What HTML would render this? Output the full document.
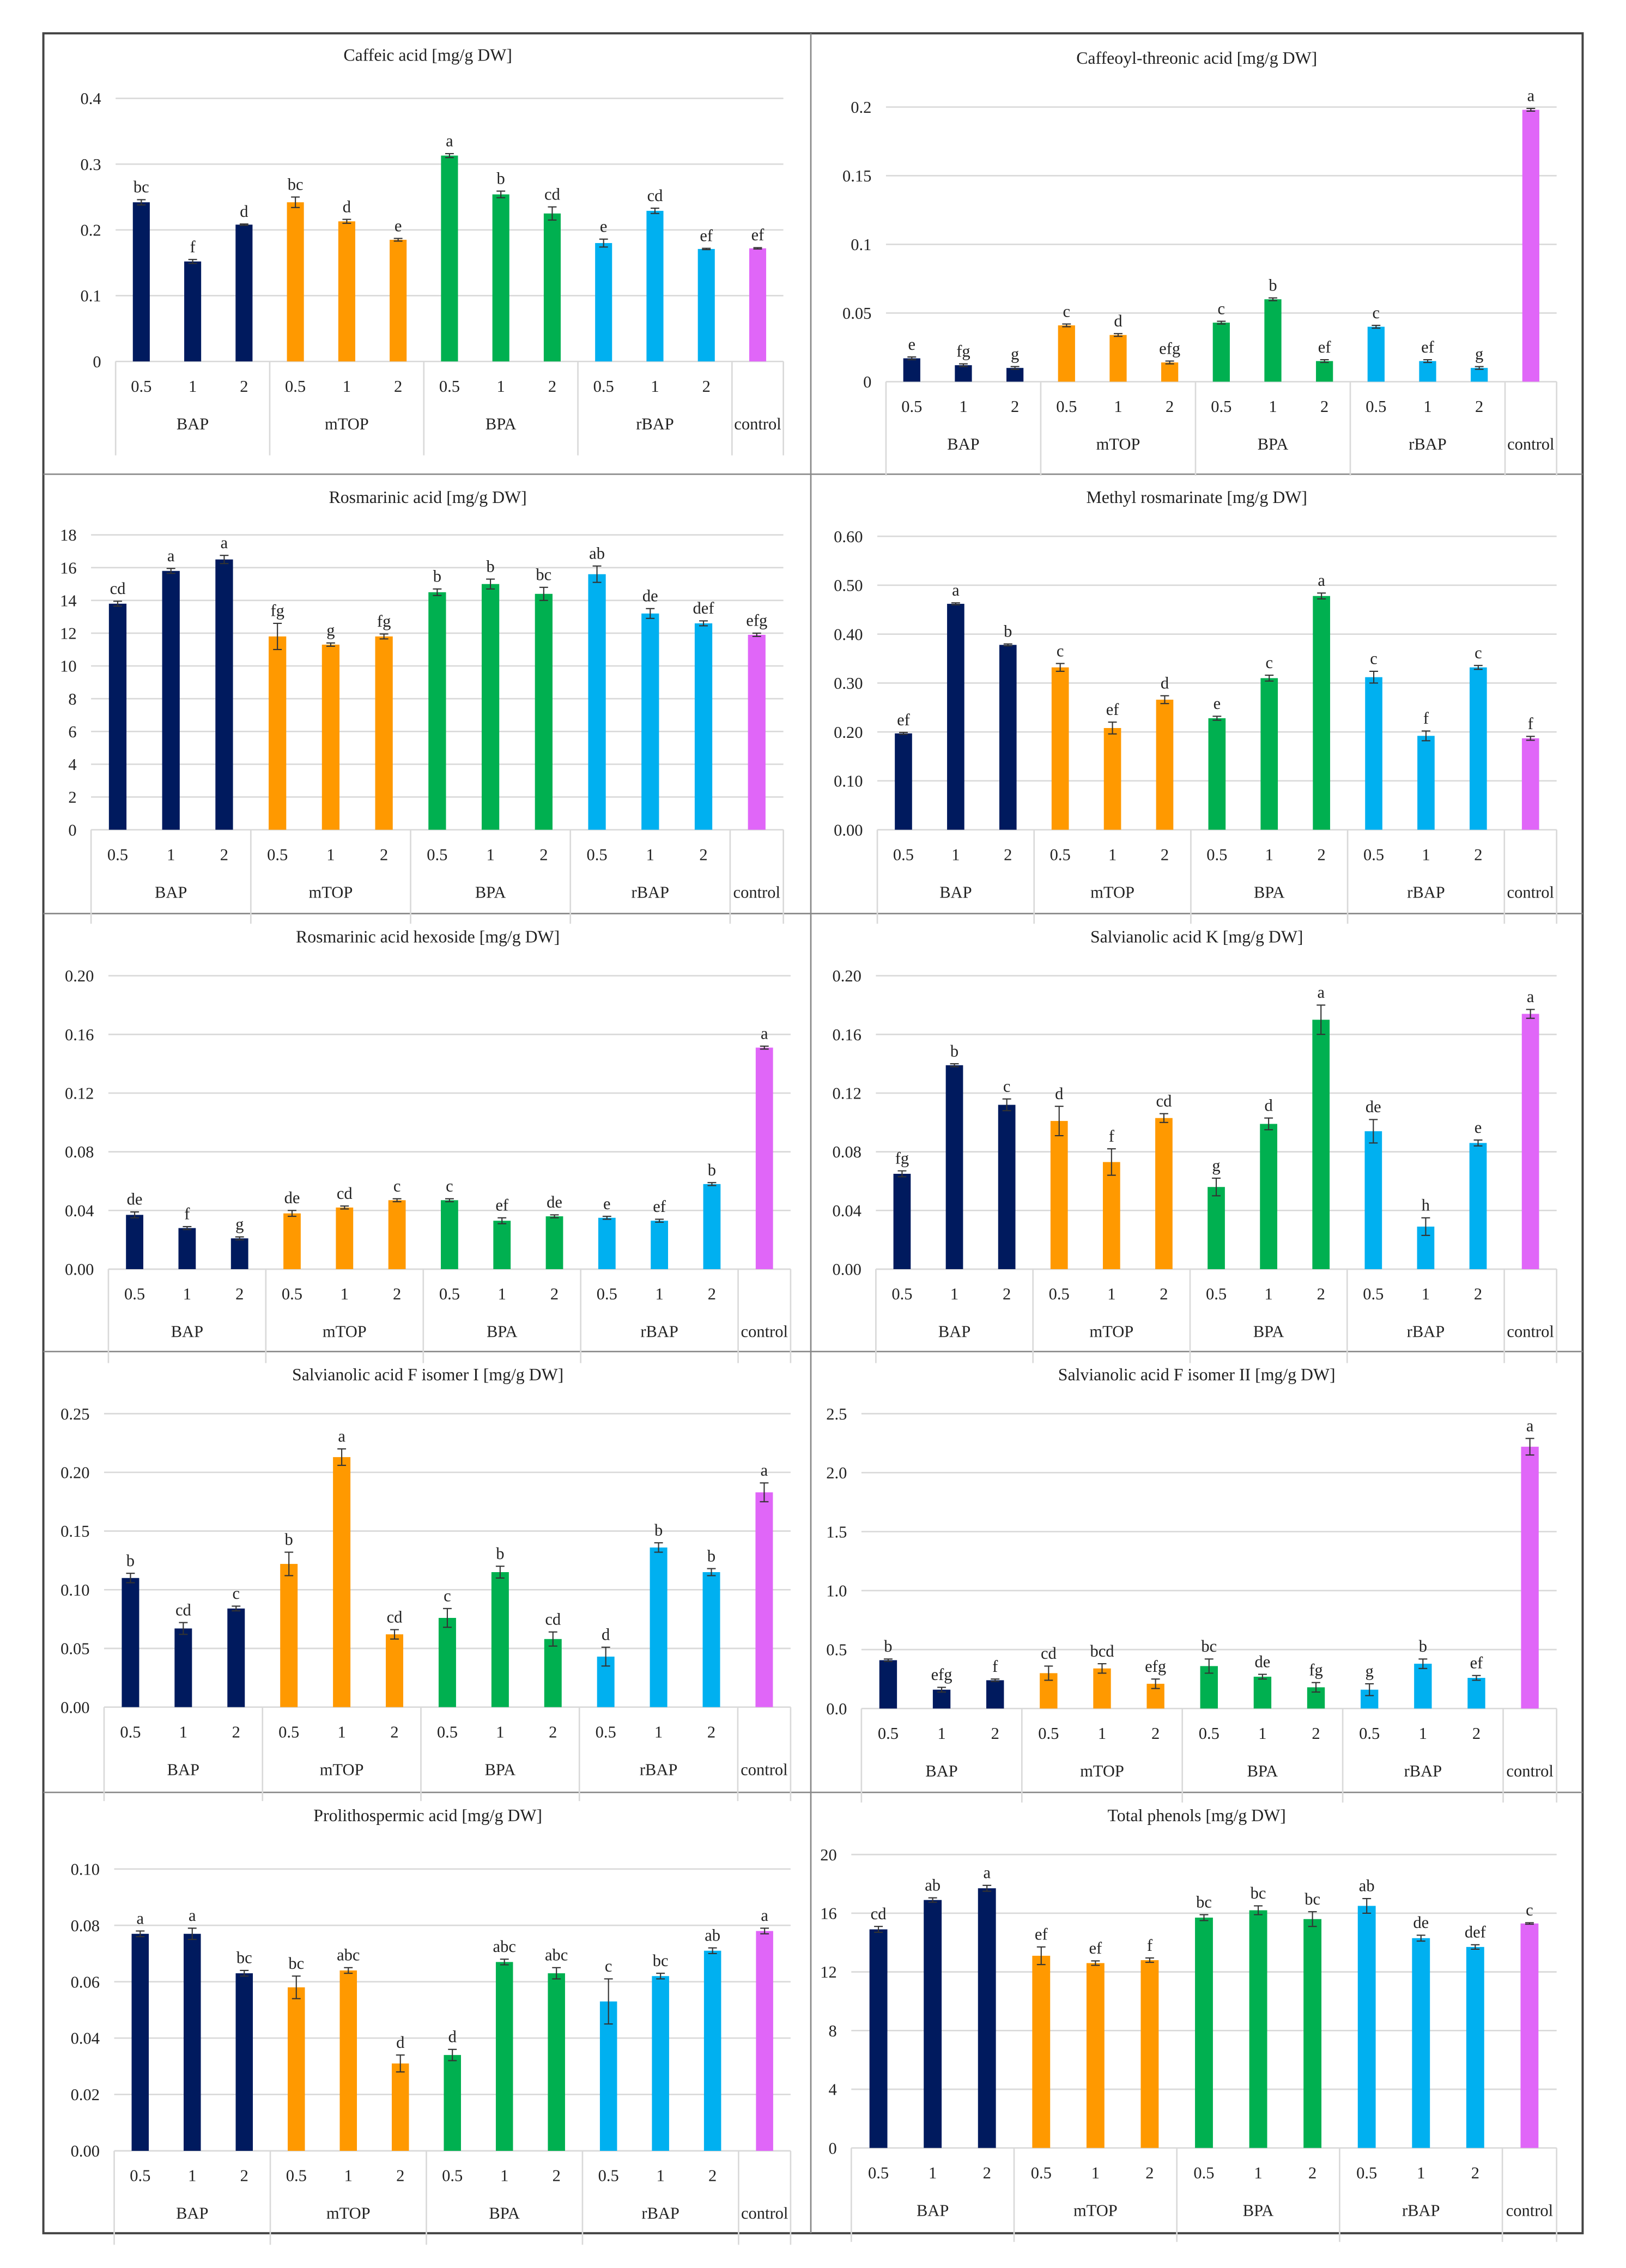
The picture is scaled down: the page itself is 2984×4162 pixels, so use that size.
<!DOCTYPE html>
<html><head><meta charset="utf-8"><style>
html,body{margin:0;padding:0;background:#fff}
svg{display:block}
text{font-family:"Liberation Serif",serif;fill:#222}
</style></head><body>
<svg id="fig" width="2984" height="4162" viewBox="0 0 1125 1569" xmlns="http://www.w3.org/2000/svg"></svg>
<script>
const groups = ["BAP","mTOP","BPA","rBAP","control"];
const doses = ["0.5","1","2","0.5","1","2","0.5","1","2","0.5","1","2",""];
const colors = ["#001a5e","#001a5e","#001a5e","#ff9900","#ff9900","#ff9900","#00b050","#00b050","#00b050","#00b0f0","#00b0f0","#00b0f0","#e066f8"];

const titles = ["Caffeic acid [mg/g DW]","Caffeoyl-threonic acid [mg/g DW]","Rosmarinic acid [mg/g DW]","Methyl rosmarinate [mg/g DW]","Rosmarinic acid hexoside [mg/g DW]","Salvianolic acid K [mg/g DW]","Salvianolic acid F isomer I [mg/g DW]","Salvianolic acid F isomer II [mg/g DW]","Prolithospermic acid [mg/g DW]","Total phenols [mg/g DW]"];

const v1 = [.242,.152,.208,.242,.213,.185,.313,.254,.225,.180,.229,.171,.172];
const e1 = [.004,.003,.001,.008,.003,.002,.003,.005,.010,.006,.004,.001,.001];
const l1 = ["bc","f","d","bc","d","e","a","b","cd","e","cd","ef","ef"];
const v2 = [.017,.012,.010,.041,.034,.014,.043,.060,.015,.040,.015,.010,.198];
const e2 = [.001,.001,.001,.001,.001,.001,.001,.001,.001,.001,.001,.001,.001];
const l2 = ["e","fg","g","c","d","efg","c","b","ef","c","ef","g","a"];
const v3 = [13.8,15.8,16.5,11.8,11.3,11.8,14.5,15.0,14.4,15.6,13.2,12.6,11.9];
const e3 = [.15,.15,.25,.8,.1,.15,.2,.3,.4,.5,.3,.15,.1];
const l3 = ["cd","a","a","fg","g","fg","b","b","bc","ab","de","def","efg"];
const v4 = [.197,.462,.378,.332,.208,.266,.228,.310,.478,.312,.192,.332,.187];
const e4 = [.002,.002,.002,.008,.012,.008,.004,.006,.006,.012,.01,.004,.004];
const l4 = ["ef","a","b","c","ef","d","e","c","a","c","f","c","f"];
const v5 = [.037,.028,.021,.038,.042,.047,.047,.033,.036,.035,.033,.058,.151];
const e5 = [.002,.001,.001,.002,.001,.001,.001,.002,.001,.001,.001,.001,.001];
const l5 = ["de","f","g","de","cd","c","c","ef","de","e","ef","b","a"];
const v6 = [.065,.139,.112,.101,.073,.103,.056,.099,.170,.094,.029,.086,.174];
const e6 = [.002,.001,.004,.010,.009,.003,.006,.004,.010,.008,.006,.002,.003];
const l6 = ["fg","b","c","d","f","cd","g","d","a","de","h","e","a"];
const v7 = [.110,.067,.084,.122,.213,.062,.076,.115,.058,.043,.136,.115,.183];
const e7 = [.004,.005,.002,.010,.007,.004,.008,.005,.006,.008,.004,.003,.008];
const l7 = ["b","cd","c","b","a","cd","c","b","cd","d","b","b","a"];
const v8 = [.41,.16,.24,.30,.34,.21,.36,.27,.18,.16,.38,.26,2.22];
const e8 = [.01,.02,.01,.06,.04,.04,.06,.02,.04,.05,.04,.02,.07];
const l8 = ["b","efg","f","cd","bcd","efg","bc","de","fg","g","b","ef","a"];
const v9 = [.077,.077,.063,.058,.064,.031,.034,.067,.063,.053,.062,.071,.078];
const e9 = [.001,.002,.001,.004,.001,.003,.002,.001,.002,.008,.001,.001,.001];
const l9 = ["a","a","bc","bc","abc","d","d","abc","abc","c","bc","ab","a"];
const v10 = [14.9,16.9,17.7,13.1,12.6,12.8,15.7,16.2,15.6,16.5,14.3,13.7,15.3];
const e10 = [.2,.15,.2,.6,.15,.15,.2,.3,.5,.5,.2,.15,.05];
const l10 = ["cd","ab","a","ef","ef","f","bc","bc","bc","ab","de","def","c"];

const ticks1 = ["0","0.1","0.2","0.3","0.4"];
const ticks2 = ["0","0.05","0.1","0.15","0.2"];
const ticks3 = ["0","2","4","6","8","10","12","14","16","18"];
const ticks4 = ["0.00","0.10","0.20","0.30","0.40","0.50","0.60"];
const ticks5 = ["0.00","0.04","0.08","0.12","0.16","0.20"];
const ticks6 = ["0.00","0.04","0.08","0.12","0.16","0.20"];
const ticks7 = ["0.00","0.05","0.10","0.15","0.20","0.25"];
const ticks8 = ["0.0","0.5","1.0","1.5","2.0","2.5"];
const ticks9 = ["0.00","0.02","0.04","0.06","0.08","0.10"];
const ticks10 = ["0","4","8","12","16","20"];

const vals=[v1,v2,v3,v4,v5,v6,v7,v8,v9,v10];
const errs=[e1,e2,e3,e4,e5,e6,e7,e8,e9,e10];
const lets=[l1,l2,l3,l4,l5,l6,l7,l8,l9,l10];
const ticks=[ticks1,ticks2,ticks3,ticks4,ticks5,ticks6,ticks7,ticks8,ticks9,ticks10];
// layout: [left,right,yTop,yZero,titleY]
const lay=[[80,542,68,250,42],[613,1077,74,264,44],[63,542,370,574,348],[607,1077,371,574,348],
[75,547,675,878,652],[606,1077,675,878,652],[72,547,978,1181,955],[596,1077,978,1182,955],
[79,547,1293,1488,1260],[589,1077,1283,1486,1260]];

const svg=document.getElementById('fig');
const NS="http://www.w3.org/2000/svg";
function mk(tag,attrs,parent){const e=document.createElementNS(NS,tag);for(const k in attrs)e.setAttribute(k,attrs[k]);(parent||svg).appendChild(e);return e;}

// frame
const rowY=[23,328,632,935,1240,1545];
const frame=mk('g',{});


mk('rect',{x:30,y:23,width:1065,height:1522,fill:'none',stroke:'#444','stroke-width':1.5},frame);
mk('line',{x1:561,y1:23,x2:561,y2:1545,stroke:'#888','stroke-width':1},frame);
for(let i=1;i<5;i++) mk('line',{x1:30,y1:rowY[i],x2:1095,y2:rowY[i],stroke:'#888','stroke-width':1},frame);

for(let p=0;p<10;p++){
  const [L,R,T,Z,TY]=lay[p];
  const col=p%2, cx=col?828:296;
  const g=mk('g',{});
  
  
  const t=mk('text',{x:cx,y:TY,'font-size':12,'text-anchor':'middle'},g);
  t.textContent=titles[p];
  
  
  const tk=ticks[p], n=tk.length-1, maxV=parseFloat(tk[n]);
  const yS=v=>Z-(v/maxV)*(Z-T);
  for(let i=0;i<=n;i++){
    const v=parseFloat(tk[i]), y=yS(v);
    if(i>0) mk('line',{x1:L,y1:y,x2:R,y2:y,stroke:'#d9d9d9','stroke-width':1},g);
    const tl=mk('text',{x:L-10,y:y+4,'font-size':11.5,'text-anchor':'end'},g);
    tl.textContent=tk[i];
    
    
  }
  mk('line',{x1:L,y1:Z,x2:R,y2:Z,stroke:'#d9d9d9','stroke-width':1},g);
  const slot=(R-L)/13, bw=slot*0.33;
  const xS=i=>L+slot*(i+0.5);
  [0,3,6,9,12,13].forEach(k=>mk('line',{x1:L+k*slot,y1:Z,x2:L+k*slot,y2:Z+65,stroke:'#d9d9d9','stroke-width':1},g));
  for(let i=0;i<13;i++){
    const v=vals[p][i], e=errs[p][i], x=xS(i), y=yS(v);
    const b=mk('rect',{x:x-bw/2,y:y,width:bw,height:Z-y,fill:colors[i]},g);
    
    
    const y1=yS(v+e), y2=yS(v-e);
    mk('line',{x1:x,y1:y1,x2:x,y2:y2,stroke:'#333','stroke-width':0.8},g);
    mk('line',{x1:x-3,y1:y1,x2:x+3,y2:y1,stroke:'#333','stroke-width':0.8},g);
    mk('line',{x1:x-3,y1:y2,x2:x+3,y2:y2,stroke:'#333','stroke-width':0.8},g);
    const lt=mk('text',{x:x,y:y1-5,'font-size':11.5,'text-anchor':'middle'},g);
    lt.textContent=lets[p][i];
    
    
    if(doses[i]){
      const dl=mk('text',{x:x,y:Z+21,'font-size':11.5,'text-anchor':'middle'},g);
      dl.textContent=doses[i];
      
      
    }
  }
  for(let k=0;k<5;k++){
    const gx=k<4?L+slot*(3*k+1.5):L+slot*12.5;
    const gl=mk('text',{x:gx,y:Z+47,'font-size':11.5,'text-anchor':'middle'},g);
    gl.textContent=groups[k];
    
    
  }
}
</script>
</body></html>
